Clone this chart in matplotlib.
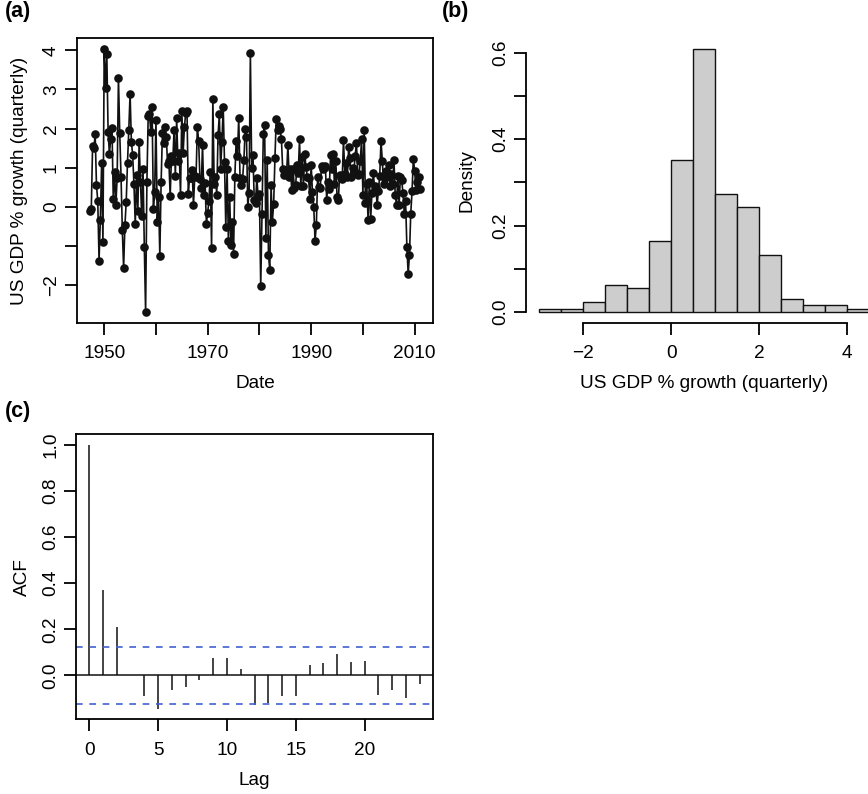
import numpy as np
import matplotlib.pyplot as plt

plt.rcParams['font.family'] = ['Liberation Sans', 'DejaVu Sans']
plt.rcParams['font.size'] = 13.7

# quarterly US GDP % growth, starting 1947 Q2
start_year = 1947.25
growth = [
    -0.12, -0.07, 1.55,             # 1947
    1.50, 1.85, 0.56, 0.15,         # 1948
    -1.38, -0.33, 1.12, -0.90,      # 1949
    4.04, 3.04, 3.91, 1.92,         # 1950
    1.35, 1.73, 2.02, 0.20,         # 1951
    0.89, 0.05, 0.74, 3.30,         # 1952
    1.88, 0.77, -0.60, -1.57,       # 1953
    -0.48, 0.12, 1.13, 1.97,        # 1954
    2.89, 1.66, 1.32, 0.57,         # 1955
    -0.45, 0.82, -0.10, 1.66,       # 1956
    0.64, -0.25, 0.97, -1.03,       # 1957
    -2.70, 0.64, 2.32, 2.36,        # 1958
    1.92, 2.55, -0.05, 0.37,        # 1959
    2.22, -0.38, 0.25, -1.26,       # 1960
    0.64, 1.88, 1.63, 2.05,         # 1961
    1.78, 1.08, 1.16, 0.27,         # 1962
    1.30, 1.16, 1.95, 0.79,         # 1963
    2.26, 1.16, 1.37, 0.30,         # 1964
    2.45, 1.37, 2.04, 2.39,         # 1965
    2.45, 0.33, 0.74, 0.74,         # 1966
    0.94, 0.04, 0.79, 0.77,         # 1967
    2.04, 1.68, 0.72, 0.47,         # 1968
    1.59, 0.30, 0.60, -0.44,        # 1969
    -0.15, 0.15, 0.89, -1.06,       # 1970
    2.75, 0.57, 0.77, 0.30,         # 1971
    1.83, 2.36, 0.96, 1.66,         # 1972
    2.55, 1.15, -0.53, 0.96,        # 1973
    -0.87, 0.25, -0.99, -0.40,      # 1974
    -1.21, 0.77, 1.68, 1.30,        # 1975
    2.28, 0.74, 0.55, 0.72,         # 1976
    1.20, 1.99, 1.78, 0.00,         # 1977
    0.35, 3.93, 0.99, 1.32,         # 1978
    0.17, 0.10, 0.74, 0.25,         # 1979
    0.32, -2.04, -0.18, 1.85,       # 1980
    2.08, -0.81, 1.20, -1.24,       # 1981
    -1.61, 0.55, -0.38, 0.07,       # 1982
    1.25, 2.25, 1.97, 2.06,         # 1983
    1.99, 1.73, 0.96, 0.82,         # 1984
    0.94, 0.84, 1.57, 0.77,         # 1985
    0.96, 0.42, 0.96, 0.47,         # 1986
    0.55, 1.06, 0.86, 1.72,         # 1987
    0.52, 1.27, 0.52, 1.34,         # 1988
    1.01, 0.77, 0.74, 0.20,         # 1989
    1.07, 0.37, 0.00, -0.87,        # 1990
    -0.48, 0.77, 0.50, 0.47,        # 1991
    1.05, 0.96, 0.99, 1.03,         # 1992
    0.17, 0.62, 0.45, 1.32,         # 1993
    0.96, 1.35, 0.57, 1.18,         # 1994
    0.26, 0.17, 0.82, 0.74,         # 1995
    0.72, 1.70, 0.84, 1.13,         # 1996
    0.77, 1.52, 1.25, 0.77,         # 1997
    0.99, 0.89, 1.30, 1.63,         # 1998
    0.82, 0.84, 1.18, 1.74,         # 1999
    0.30, 1.96, 0.09, 0.57,         # 2000
    -0.33, 0.64, -0.31, 0.35,       # 2001
    0.86, 0.52, 0.50, 0.04,         # 2002
    0.40, 0.79, 1.68, 1.18,         # 2003
    0.57, 0.74, 0.91, 0.86,         # 2004
    1.06, 0.52, 0.84, 0.57,         # 2005
    1.20, 0.30, 0.04, 0.79,         # 2006
    0.05, 0.77, 0.67, 0.35,         # 2007
    -0.18, 0.15, -1.02, -1.72,      # 2008
    -1.23, -0.18, 0.40, 1.23,       # 2009
    0.91, 0.42, 0.64, 0.77,         # 2010
    0.45,                           # 2011
]

# histogram of growth (bin edges, counts)
hist_edges = [-3.0, -2.5, -2.0, -1.5, -1.0, -0.5, 0.0, 0.5, 1.0,
              1.5, 2.0, 2.5, 3.0, 3.5, 4.0, 4.5]
hist_counts = [1, 1, 3, 8, 7, 21, 45, 78, 35, 31, 17, 4, 2, 2, 1]

# autocorrelations, lag 0..24
acf_vals = [1.0, 0.368, 0.212, 0.002, -0.089, -0.144, -0.063, -0.049,
            -0.020, 0.076, 0.076, 0.029, -0.130, -0.121, -0.088, -0.087,
            0.045, 0.053, 0.091, 0.058, 0.063, -0.085, -0.063, -0.098,
            -0.035]
acf_ci = 0.122

dates = start_year + 0.25 * np.arange(len(growth))
lags = np.arange(len(acf_vals))

fig = plt.figure(figsize=(8.68, 7.94), dpi=100)

W, H = 868.0, 794.0


def place(l, t, r, b):
    return fig.add_axes([l / W, 1 - b / H, (r - l) / W, (b - t) / H])


def style(ax, box=True):
    for s in ax.spines.values():
        s.set_linewidth(1.3)
        s.set_visible(box)
    ax.tick_params(length=8.6, width=1.3, direction='out')
    ax.tick_params(axis='x', pad=7.5)
    ax.tick_params(axis='y', pad=3.5, labelrotation=90)
    for lab in ax.get_yticklabels():
        lab.set_va('center')


# (a) time series
ax1 = place(76.8, 38.3, 433, 322.7)
ax1.plot(dates, growth, color='#111111', lw=1.2, marker='o',
         markersize=6.2, markeredgewidth=0)
ax1.set_xlim(1944.7, 2013.55)
ax1.set_ylim(-2.97, 4.31)
ax1.set_xticks([1950, 1960, 1970, 1980, 1990, 2000, 2010])
ax1.set_xticklabels(['1950', '', '1970', '', '1990', '', '2010'])
ax1.set_yticks([-2, -1, 0, 1, 2, 3, 4])
ax1.set_yticklabels(['\u22122', '', '0', '1', '2', '3', '4'])
style(ax1)
ax1.set_xlabel('Date')
ax1.set_ylabel('US GDP % growth (quarterly)')
ax1.xaxis.set_label_coords(0.5, -0.183)
ax1.yaxis.set_label_coords(-0.138, 0.5)

# (b) histogram
ax2 = place(526, 38.0, 882.2, 322.7)
ax2.hist(hist_edges[:-1], bins=hist_edges, weights=hist_counts,
         density=True, color='#cdcdcd', edgecolor='#111111', linewidth=1.0)
ax2.set_xlim(-3.3, 4.8)
ax2.set_ylim(-0.0244, 0.6338)
ax2.set_xticks([-2, 0, 2, 4])
ax2.set_xticklabels(['\u22122', '0', '2', '4'])
ax2.set_yticks([0.0, 0.1, 0.2, 0.3, 0.4, 0.5, 0.6])
ax2.set_yticklabels(['0.0', '', '0.2', '', '0.4', '', '0.6'])
style(ax2, box=False)
ax2.spines['left'].set_visible(True)
ax2.spines['bottom'].set_visible(True)
ax2.spines['left'].set_bounds(0, 0.6)
ax2.spines['bottom'].set_bounds(-2, 4)
ax2.set_xlabel('US GDP % growth (quarterly)')
ax2.set_ylabel('Density')
ax2.xaxis.set_label_coords(0.5, -0.183)
ax2.yaxis.set_label_coords(-0.143, 0.5)

# (c) ACF
ax3 = place(76, 434, 433, 719.3)
ax3.vlines(lags, 0, acf_vals, color='#111111', lw=1.1)
ax3.axhline(0, color='#111111', lw=1.1)
for c in (acf_ci, -acf_ci):
    ax3.axhline(c, color='#4060d0', lw=1.2, dashes=(4, 4))
ax3.set_xlim(-0.96, 24.96)
ax3.set_ylim(-0.19, 1.046)
ax3.set_xticks([0, 5, 10, 15, 20])
ax3.set_yticks([0.0, 0.2, 0.4, 0.6, 0.8, 1.0])
ax3.set_yticklabels(['0.0', '0.2', '0.4', '0.6', '0.8', '1.0'])
style(ax3)
ax3.set_xlabel('Lag')
ax3.set_ylabel('ACF')
ax3.xaxis.set_label_coords(0.5, -0.183)
ax3.yaxis.set_label_coords(-0.125, 0.5)

for txt, x, y in [('(a)', 5, 12), ('(b)', 442, 12), ('(c)', 5, 411)]:
    fig.text(x / W, 1 - y / H, txt, fontweight='bold', fontsize=15.5,
             va='center', ha='left')

fig.savefig('out.png', dpi=100)
